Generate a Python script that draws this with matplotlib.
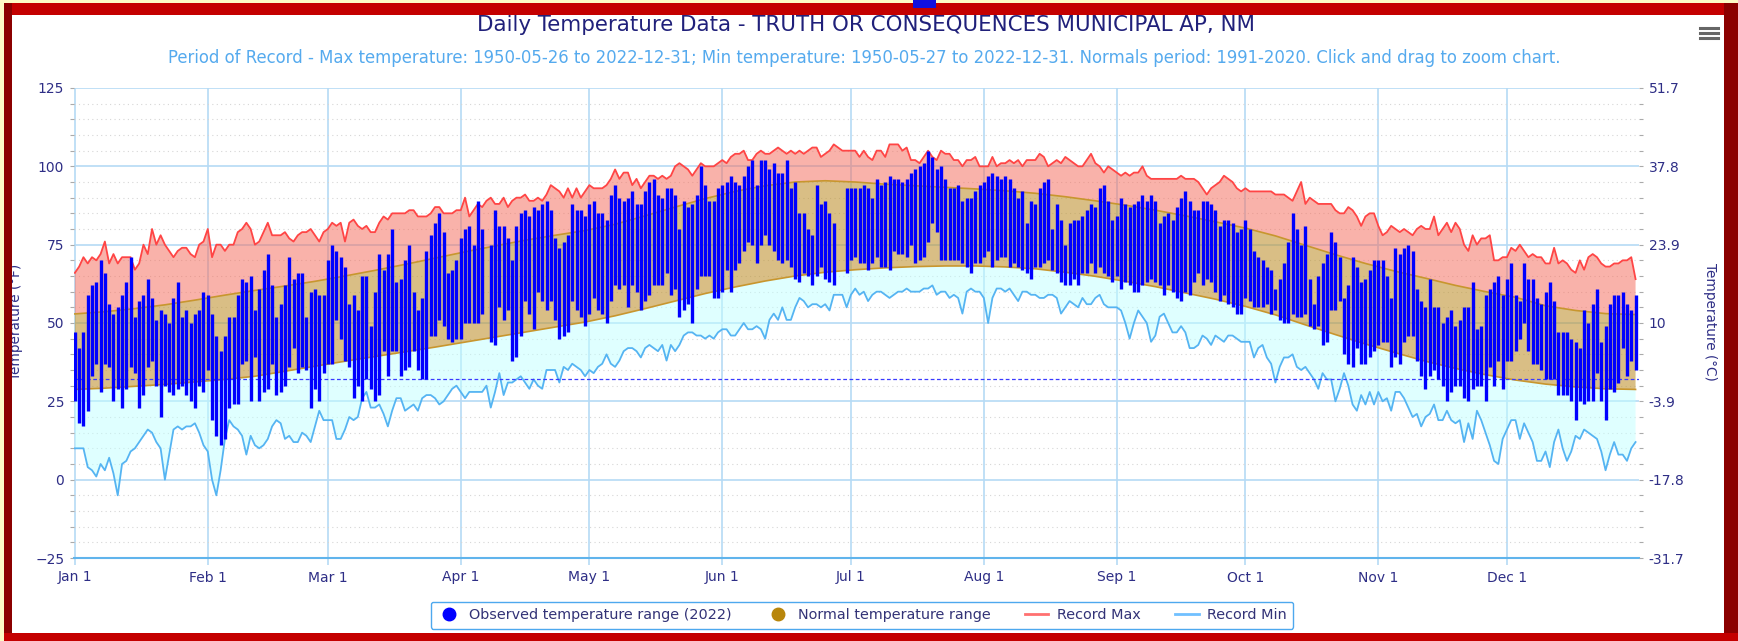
import numpy as np
import matplotlib
matplotlib.use("Agg")
import matplotlib.pyplot as plt
from matplotlib.lines import Line2D
from matplotlib.patches import Rectangle

# ---- data (deg F), one value per day of 2022, index 0 = Jan 1 ----
record_max = [
    66, 68, 71, 69, 71, 70, 72, 76, 69, 72,
    69, 71, 71, 71, 67, 69, 75, 72, 80, 75,
    78, 75, 73, 71, 73, 74, 74, 72, 71, 75,
    76, 80, 71, 75, 75, 73, 75, 75, 79, 80,
    82, 80, 75, 76, 79, 82, 78, 78, 78, 79,
    77, 76, 78, 79, 79, 80, 78, 76, 79, 80,
    82, 81, 82, 76, 82, 83, 81, 80, 81, 79,
    79, 82, 84, 83, 85, 85, 85, 85, 86, 86,
    84, 84, 84, 85, 87, 87, 85, 85, 85, 86,
    86, 90, 84, 86, 88, 87, 89, 90, 88, 88,
    90, 87, 89, 90, 90, 91, 89, 89, 90, 89,
    91, 94, 93, 92, 90, 93, 90, 93, 90, 92,
    94, 93, 93, 93, 94, 96, 99, 96, 98, 98,
    94, 96, 93, 95, 97, 97, 96, 97, 96, 97,
    100, 101, 100, 99, 97, 99, 101, 100, 100, 100,
    101, 102, 101, 103, 104, 104, 105, 102, 102, 104,
    105, 104, 104, 105, 106, 105, 104, 105, 104, 105,
    104, 105, 106, 106, 103, 104, 105, 107, 106, 105,
    105, 105, 105, 103, 105, 103, 102, 105, 105, 103,
    107, 107, 107, 105, 106, 102, 102, 101, 103, 105,
    103, 102, 105, 104, 104, 102, 102, 100, 102, 102,
    103, 100, 100, 100, 103, 100, 101, 101, 102, 101,
    102, 100, 102, 102, 102, 104, 103, 100, 101, 102,
    101, 103, 102, 101, 100, 100, 102, 104, 101, 100,
    98, 100, 99, 98, 97, 98, 97, 98, 98, 100,
    97, 96, 96, 96, 96, 96, 96, 96, 97, 96,
    96, 96, 95, 93, 91, 93, 94, 95, 97, 96,
    95, 93, 92, 93, 92, 92, 92, 92, 92, 92,
    91, 91, 91, 90, 89, 92, 95, 88, 90, 89,
    88, 88, 88, 88, 86, 85, 85, 87, 86, 84,
    81, 84, 85, 85, 81, 78, 79, 81, 80, 79,
    80, 79, 78, 80, 81, 80, 80, 84, 78, 80,
    82, 79, 82, 80, 75, 73, 78, 75, 77, 77,
    78, 70, 70, 71, 71, 74, 73, 75, 73, 71,
    72, 71, 71, 69, 69, 74, 69, 70, 69, 67,
    66, 70, 67, 71, 72, 71, 69, 68, 68, 69,
    69, 70, 70, 71, 64,
]

record_min = [
    10, 10, 10, 4, 3, 1, 5, 3, 7, 2,
    -5, 5, 6, 9, 10, 12, 14, 16, 15, 12,
    10, 0, 8, 16, 17, 16, 17, 17, 18, 15,
    11, 9, 0, -5, 3, 13, 19, 17, 16, 14,
    8, 14, 11, 10, 11, 13, 17, 19, 18, 13,
    14, 12, 12, 15, 14, 12, 17, 22, 19, 19,
    19, 13, 13, 16, 20, 19, 20, 26, 28, 23,
    23, 24, 21, 17, 22, 26, 26, 22, 23, 24,
    22, 26, 27, 27, 26, 24, 25, 27, 29, 30,
    28, 26, 28, 28, 28, 28, 30, 23, 28, 34,
    27, 31, 31, 32, 33, 31, 29, 32, 30, 29,
    35, 35, 35, 31, 36, 35, 37, 36, 35, 33,
    35, 34, 36, 37, 40, 37, 36, 38, 41, 42,
    42, 41, 39, 42, 43, 42, 41, 43, 38, 43,
    41, 43, 46, 47, 47, 46, 46, 45, 46, 45,
    47, 48, 48, 46, 46, 48, 50, 48, 48, 49,
    48, 45, 51, 53, 51, 55, 51, 51, 55, 58,
    57, 55, 56, 56, 55, 56, 54, 59, 59, 59,
    55, 59, 61, 59, 60, 57, 59, 60, 60, 59,
    58, 59, 60, 60, 61, 60, 60, 60, 61, 61,
    62, 59, 60, 60, 58, 59, 58, 53, 60, 61,
    60, 60, 58, 50, 58, 61, 61, 60, 61, 59,
    57, 60, 60, 59, 59, 58, 58, 59, 59, 58,
    53, 55, 57, 56, 55, 58, 56, 56, 58, 59,
    56, 55, 55, 55, 54, 50, 45, 50, 54, 52,
    50, 44, 46, 52, 53, 50, 47, 47, 49, 47,
    42, 42, 43, 46, 45, 43, 46, 45, 44, 46,
    46, 45, 44, 44, 44, 39, 42, 43, 39, 37,
    31, 36, 39, 39, 40, 36, 35, 36, 34, 32,
    29, 34, 32, 32, 25, 29, 34, 30, 24, 22,
    27, 24, 28, 24, 28, 25, 26, 22, 28, 28,
    26, 23, 20, 21, 17, 20, 21, 24, 19, 19,
    22, 19, 18, 19, 12, 18, 13, 22, 19, 15,
    11, 6, 5, 13, 16, 19, 19, 13, 18, 15,
    12, 6, 6, 9, 4, 12, 16, 10, 6, 9,
    14, 13, 16, 15, 14, 13, 9, 3, 8, 12,
    8, 8, 6, 10, 12,
]

N = None  # missing observation
obs_max = [
    47, 42, 47, 59, 62, 63, 70, 66, 56, 53,
    55, 59, 63, 71, 52, 57, 59, 64, 58, 51,
    54, 53, 50, 58, 63, 52, 54, 50, 53, 54,
    60, 59, 53, 46, 41, 46, 52, 52, 59, 64,
    63, 65, 54, 61, 67, 72, 62, 52, 56, 62,
    71, 64, 66, 66, 52, 60, 61, 59, 59, 70,
    75, 73, 71, 68, 56, 59, 54, 65, 65, 49,
    60, 72, 67, 72, 80, 63, 64, 70, 75, 60,
    54, 58, 73, 78, 82, 85, 79, 66, 67, 70,
    77, 80, 81, 75, 89, 80, N, 75, 86, 81,
    81, 77, 70, 81, 85, 86, 84, 87, 86, 88,
    89, 86, 77, 74, 76, 78, 88, 86, 86, 84,
    88, 89, 85, 85, 83, 91, 94, 90, 89, 90,
    92, 88, 88, 92, 95, 96, 91, 90, 93, 93,
    91, 80, 89, 87, 88, 91, 100, 94, 89, 89,
    93, 94, 95, 97, 95, 94, 97, 100, 102, 94,
    102, 102, 99, 101, 98, 98, 102, 93, 95, 85,
    85, 80, 78, 94, 88, 89, 85, 82, N, N,
    93, 93, 93, 93, 94, 93, 90, 96, 94, 95,
    97, 96, 96, 95, 96, 98, 99, 100, 101, 105,
    103, 99, 100, 96, 93, 93, 94, 89, 90, 90,
    92, 94, 95, 97, 98, 97, 96, 97, 96, 93,
    90, 92, 82, 89, 88, 93, 95, 96, 80, 88,
    83, 75, 82, 83, 83, 84, 86, 88, 87, 93,
    94, 89, 83, 84, 90, 88, 87, 88, 89, 91,
    89, 91, 89, 82, 84, 85, 83, 87, 90, 92,
    89, 86, 86, 89, 89, 88, 86, 81, 83, 83,
    82, 79, 80, 83, 80, 73, 71, 70, 68, 67,
    61, 64, 69, 76, 85, 80, 75, 81, 64, 56,
    65, 69, 72, 79, 76, 71, 58, 62, 71, 68,
    63, 64, 67, 70, 70, 70, 65, 58, 74, 72,
    74, 75, 73, 61, 57, 55, 64, 55, 55, 50,
    52, 54, 49, 51, 55, 55, 63, 48, 49, 59,
    61, 63, 65, 59, 64, 69, 59, 57, 69, 64,
    64, 58, 56, 60, 63, 57, 47, 47, 47, 45,
    44, 42, 54, 50, 56, 61, 44, 49, 56, 59,
    59, 60, 56, 54, 59,
]

obs_min = [
    25, 18, 17, 22, 33, 37, 28, 37, 36, 25,
    29, 23, 29, 36, 34, 23, 27, 36, 38, 30,
    20, 30, 28, 27, 29, 30, 27, 25, 23, 30,
    28, 35, 19, 14, 11, 13, 23, 24, 24, 37,
    38, 25, 39, 25, 28, 29, 37, 27, 28, 30,
    36, 42, 34, 36, 35, 23, 29, 25, 34, 37,
    37, 51, 45, 38, 36, 26, 30, 25, 32, 29,
    25, 27, 41, 33, 41, 41, 33, 35, 36, 41,
    35, 32, 32, 46, 46, 51, 49, 45, 44, 45,
    45, 50, 50, 50, 50, 53, N, 44, 43, 55,
    51, 54, 38, 39, 46, 57, 53, 48, 60, 57,
    54, 57, 51, 45, 46, 47, 57, 54, 52, 49,
    53, 58, 54, 53, 50, 57, 62, 61, 62, 55,
    62, 60, 54, 57, 59, 62, 62, 62, 66, 59,
    61, 52, 54, 56, 50, 61, 65, 65, 65, 58,
    58, 60, 67, 60, 67, 69, 73, 76, 75, 69,
    75, 78, 75, 73, 70, 69, 70, 68, 64, 63,
    66, 65, 62, 65, 68, 64, 63, 62, N, N,
    66, 70, 71, 69, 69, 67, 69, 71, 68, 68,
    67, 73, 72, 72, 71, 75, 69, 70, 71, 76,
    82, 79, 70, 70, 70, 70, 70, 69, 68, 66,
    69, 69, 71, 73, 68, 70, 71, 71, 68, 69,
    68, 67, 66, 64, 68, 68, 69, 70, 67, 66,
    63, 62, 62, 64, 62, 66, 66, 69, 66, 68,
    66, 65, 63, 65, 61, 63, 62, 60, 60, 62,
    63, 64, 63, 62, 59, 62, 60, 58, 57, 60,
    59, 63, 66, 62, 64, 63, 60, 57, 59, 56,
    55, 53, 53, 58, 57, 55, 55, 55, 56, 53,
    54, 51, 50, 50, 53, 52, 52, 53, 49, 48,
    49, 43, 44, 54, 54, 57, 40, 37, 36, 42,
    37, 37, 39, 41, 43, 44, 44, 36, 39, 37,
    44, 46, 46, 38, 33, 29, 33, 35, 32, 30,
    25, 28, 30, 30, 26, 25, 29, 30, 30, 25,
    36, 30, 38, 29, 38, 38, 41, 45, 50, 41,
    37, 37, 35, 32, 32, 32, 27, 27, 27, 25,
    19, 25, 24, 25, 25, 34, 25, 19, 29, 28,
    31, 42, 33, 38, 35,
]

normal_days = [0, 7, 14, 21, 28, 35, 42, 49, 56, 63, 70, 77, 84, 91, 98, 105,
               112, 119, 126, 133, 140, 147, 154, 161, 168, 175, 182, 189, 196,
               203, 210, 217, 224, 231, 238, 245, 252, 259, 266, 273, 280, 287,
               294, 301, 308, 315, 322, 329, 336, 343, 350, 357, 364]
normal_high = [52.9, 53.6, 54.6, 55.8, 57.3, 58.9, 60.4, 61.8, 63.3, 65.0, 66.8,
               68.7, 70.7, 72.7, 74.6, 76.4, 78.0, 79.5, 81.5, 84.2, 87.0, 89.7,
               92.0, 93.8, 95.0, 95.4, 95.0, 94.3, 93.8, 93.3, 92.8, 92.2, 91.4,
               90.3, 89.0, 87.6, 86.0, 84.2, 82.3, 80.3, 77.8, 74.8, 71.8, 69.0,
               66.5, 64.3, 62.0, 60.0, 58.2, 55.5, 54.0, 53.0, 52.7]
normal_low = [28.8, 29.2, 29.8, 30.4, 31.2, 32.0, 33.0, 34.6, 36.2, 37.8, 39.3,
              40.8, 42.3, 43.9, 45.5, 47.1, 48.7, 50.3, 52.3, 54.6, 57.0, 59.4,
              61.5, 63.4, 65.0, 66.2, 67.0, 67.6, 68.0, 68.2, 68.2, 67.9, 67.3,
              66.2, 64.9, 63.3, 61.6, 59.6, 57.6, 55.3, 52.6, 49.4, 46.3, 43.3,
              40.5, 37.8, 35.5, 33.5, 31.8, 30.5, 29.6, 29.0, 28.8]

month_starts = [0, 31, 59, 90, 120, 151, 181, 212, 243, 273, 304, 334]
month_labels = ["Jan 1", "Feb 1", "Mar 1", "Apr 1", "May 1", "Jun 1",
                "Jul 1", "Aug 1", "Sep 1", "Oct 1", "Nov 1", "Dec 1"]
f_ticks = [-25, 0, 25, 50, 75, 100, 125]

title = "Daily Temperature Data - TRUTH OR CONSEQUENCES MUNICIPAL AP, NM"
subtitle = ("Period of Record - Max temperature: 1950-05-26 to 2022-12-31; "
            "Min temperature: 1950-05-27 to 2022-12-31. Normals period: 1991-2020. "
            "Click and drag to zoom chart.")

# ---- figure ----
W, H = 1738, 641
fig = plt.figure(figsize=(W / 100, H / 100), dpi=100, facecolor="white")


def fx(px):
    return px / W


def fy(py):
    return 1 - py / H


ax = fig.add_axes([fx(74), fy(558), fx(1639) - fx(74), fy(88) - fy(558)])
ax.set_facecolor("white")

days = np.arange(len(record_max))
rmax = np.array(record_max, dtype=float)
rmin = np.array(record_min, dtype=float)
omax = np.array(obs_max, dtype=float)
omin = np.array(obs_min, dtype=float)
nd = np.array(normal_days, dtype=float)
nh = np.array(normal_high)
nl = np.array(normal_low)

# record max area down to the normal high
ax.fill(np.concatenate([days, nd[::-1]]), np.concatenate([rmax, nh[::-1]]),
        color="#f56c5c", alpha=0.52, lw=0, zorder=1)
# normal range
ax.fill(np.concatenate([nd, nd[::-1]]), np.concatenate([nh, nl[::-1]]),
        color="#c09434", alpha=0.6, lw=0, zorder=1)
# record min area up to the normal low
ax.fill(np.concatenate([nd, days[::-1]]), np.concatenate([nl, rmin[::-1]]),
        color="#c1ffff", alpha=0.5, lw=0, zorder=1)

ax.plot(nd, nh, color="#c8962e", lw=1.2, zorder=2)
ax.plot(nd, nl, color="#c8962e", lw=1.2, zorder=2)
ax.plot(days, rmax, color="#ff4545", lw=1.3, zorder=2)
ax.plot(days, rmin, color="#55b4f2", lw=1.3, zorder=2)

ax.axhline(32, color="#3a3aff", lw=0.9, ls=(0, (3, 2)), zorder=3)

ax.vlines(days, omin, omax, colors="#0000ff", lw=2.4, zorder=4)

# axes / grid
ax.set_xlim(-0.2, 364.8)
ax.set_ylim(-25, 125)
ax.set_yticks(f_ticks)
ax.set_yticks(np.arange(-25, 126, 5), minor=True)
ax.set_xticks(month_starts)
ax.set_xticklabels(month_labels)
ax.set_axisbelow(True)
ax.grid(True, which="major", color="#b5daf5", lw=1.2)
ax.grid(True, which="minor", axis="y", color="#d6d6d6", lw=0.8, ls=(0, (1, 3)))

lab_col = "#2e2e86"
ax.tick_params(axis="y", which="both", direction="out", length=3, width=0.8,
               color="#aaaaaa", labelsize=10, labelcolor=lab_col, pad=4)
ax.tick_params(axis="x", direction="out", length=5, width=1.2, color="#b5daf5",
               labelsize=10, labelcolor=lab_col, pad=4)
for s in ["top", "right", "left"]:
    ax.spines[s].set_visible(False)
ax.spines["bottom"].set_color("#60b4ec")
ax.spines["bottom"].set_linewidth(1.5)

ax2 = ax.twinx()
ax2.set_ylim(ax.get_ylim())
ax2.set_yticks(f_ticks)
ax2.set_yticklabels(["{:g}".format(round((f - 32) * 5 / 9, 1)) for f in f_ticks])
ax2.set_yticks(np.arange(-25, 126, 5), minor=True)
ax2.tick_params(axis="y", which="both", direction="out", length=3, width=0.8,
                color="#aaaaaa", labelsize=10, labelcolor=lab_col, pad=4)
for s in ax2.spines.values():
    s.set_visible(False)

# texts
fig.text(fx(866), fy(25), title, ha="center", va="center", fontsize=15.4,
         color="#20207a")
fig.text(fx(864), fy(58), subtitle, ha="center", va="center", fontsize=11.9,
         color="#55aaee")
fig.text(fx(16), fy(322), "Temperature (°F)", rotation=90, ha="center",
         va="center", fontsize=9.8, color=lab_col)
fig.text(fx(1710), fy(322), "Temperature (°C)", rotation=270, ha="center",
         va="center", fontsize=9.8, color=lab_col)

# legend
handles = [
    Line2D([], [], ls="none", marker="o", markersize=9, markerfacecolor="#0000ff",
           markeredgecolor="#0000ff"),
    Line2D([], [], ls="none", marker="o", markersize=9, markerfacecolor="#b8860b",
           markeredgecolor="#b8860b"),
    Line2D([], [], color="#ff7070", lw=2),
    Line2D([], [], color="#70c0ff", lw=2),
]
labels = ["Observed temperature range (2022)", "Normal temperature range",
          "Record Max", "Record Min"]
leg = fig.legend(handles, labels, loc="center", bbox_to_anchor=(fx(862), fy(615)),
                 ncol=4, fontsize=10.4, frameon=True, fancybox=True, framealpha=1,
                 edgecolor="#4da8ee", handlelength=1.6, handletextpad=0.6,
                 columnspacing=2.4, borderpad=0.45, labelcolor="#333377")
leg.get_frame().set_linewidth(1.0)

# page frame around the chart
def strip(x0, y0, x1, y1, color, z=10):
    fig.add_artist(Rectangle((fx(x0), fy(y1)), fx(x1) - fx(x0), fy(y0) - fy(y1),
                             transform=fig.transFigure, color=color, lw=0,
                             zorder=z))


strip(0, 0, W, 3, "#fdfbc6")
strip(0, 0, 4, H, "#fdfbc6")
strip(4, 3, W, 15, "#c40000")
strip(4, 3, 12, H, "#8b0000")
strip(1724, 3, W, H, "#8b0000")
strip(4, 633, W, H, "#c40000")
strip(913, 0, 936, 8, "#1010e0", z=11)

# menu icon
for yy in (28, 33, 38):
    fig.add_artist(Line2D([fx(1700), fx(1718)], [fy(yy), fy(yy)],
                          transform=fig.transFigure, color="#666666", lw=2.2))

fig.savefig("out.png", dpi=100, facecolor=fig.get_facecolor())
